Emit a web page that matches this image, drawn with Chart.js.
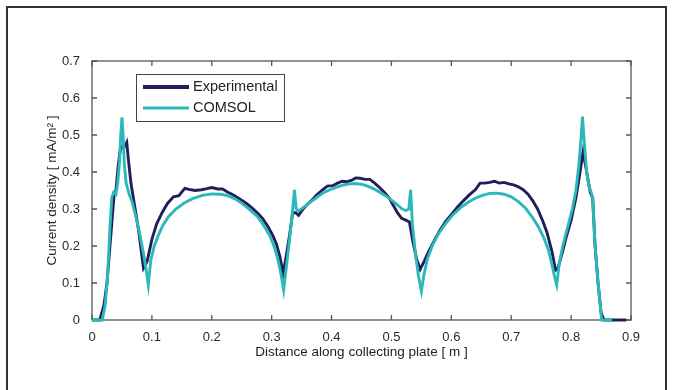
<!DOCTYPE html>
<html lang="en">
<head>
    <meta charset="UTF-8">
    <title>Current density along collecting plate</title>
    <script src="https://cdn.jsdelivr.net/npm/chart.js"></script>
    <style>
        body {
            margin: 0;
            background: #fff;
            font-family: Arial, "Liberation Sans", sans-serif;
        }
        .wrap {
            position: relative;
            width: 673px;
            height: 390px;
            overflow: hidden;
        }
        .frame {
            position: absolute;
            left: 6px;
            top: 6px;
            width: 657px;
            height: 420px;
            border: 2px solid #333;
        }
        #chart {
            position: absolute;
            left: 0;
            top: 0;
        }
    </style>
</head>
<body>
<div class="wrap">
    <div class="frame"></div>
    <canvas id="chart" width="673" height="390"></canvas>
</div>

<script>
    // values
    const seriesNames = ['Experimental', 'COMSOL'];

    const expX = [0, 0.013, 0.02, 0.025, 0.03, 0.035, 0.037, 0.04, 0.044, 0.048, 0.052, 0.055, 0.058, 0.061, 0.065, 0.07, 0.078, 0.086, 0.092,
        0.1, 0.108, 0.117, 0.126, 0.136, 0.145, 0.155, 0.162, 0.172, 0.183, 0.192, 0.2, 0.21, 0.218, 0.226, 0.236, 0.246, 0.258, 0.267, 0.276,
        0.285, 0.294, 0.302, 0.308, 0.314, 0.319, 0.324, 0.33, 0.335, 0.34, 0.345, 0.35, 0.358, 0.366, 0.375, 0.385, 0.393, 0.402, 0.41, 0.418,
        0.426, 0.434, 0.44, 0.448, 0.456, 0.464, 0.472, 0.48, 0.488, 0.496, 0.503, 0.51, 0.517, 0.524, 0.53, 0.536, 0.542, 0.548, 0.555, 0.562,
        0.57, 0.58, 0.59, 0.6, 0.61, 0.62, 0.63, 0.64, 0.648, 0.656, 0.664, 0.672, 0.68, 0.688, 0.696, 0.704, 0.712, 0.72, 0.728, 0.736, 0.744,
        0.752, 0.76, 0.768, 0.774, 0.778, 0.785, 0.792, 0.8, 0.808, 0.814, 0.82, 0.826, 0.832, 0.836, 0.84, 0.845, 0.85, 0.855, 0.892];
    const expY = [0, 0, 0.04, 0.1, 0.2, 0.3, 0.34, 0.35, 0.42, 0.47, 0.465, 0.47, 0.48, 0.43, 0.37, 0.32, 0.24, 0.14, 0.158,
        0.218, 0.26, 0.29, 0.315, 0.333, 0.336, 0.356, 0.353, 0.35, 0.352, 0.355, 0.358, 0.354, 0.354, 0.346, 0.338, 0.328, 0.315, 0.303, 0.29,
        0.274, 0.252, 0.228, 0.205, 0.17, 0.125, 0.17, 0.23, 0.29, 0.29, 0.283, 0.295, 0.31, 0.322, 0.338, 0.352, 0.362, 0.363, 0.37, 0.375,
        0.374, 0.378, 0.384, 0.383, 0.38, 0.38, 0.37, 0.358, 0.345, 0.33, 0.31, 0.29, 0.275, 0.27, 0.265, 0.21, 0.165, 0.137, 0.16, 0.185,
        0.21, 0.24, 0.265, 0.285, 0.305, 0.322, 0.338, 0.352, 0.37, 0.37, 0.372, 0.375, 0.37, 0.372, 0.368, 0.365, 0.36, 0.352, 0.34, 0.322, 0.3,
        0.27, 0.235, 0.185, 0.135, 0.14, 0.18, 0.225, 0.27, 0.33, 0.39, 0.455, 0.4, 0.345, 0.33, 0.2, 0.1, 0.02, 0, 0];

    const comX = [0, 0.017, 0.022, 0.026, 0.03, 0.033, 0.036, 0.04, 0.043, 0.046, 0.048, 0.05, 0.052, 0.054, 0.057, 0.062, 0.067, 0.073, 0.08,
        0.087, 0.091, 0.094, 0.098, 0.104, 0.111, 0.118, 0.128, 0.14, 0.154, 0.168, 0.184, 0.2, 0.214, 0.226, 0.238, 0.25, 0.262, 0.276, 0.287,
        0.297, 0.305, 0.311, 0.316, 0.32, 0.325, 0.33, 0.334, 0.338, 0.341, 0.345, 0.352, 0.36, 0.37, 0.38, 0.39, 0.4, 0.41, 0.42, 0.43, 0.44,
        0.45, 0.46, 0.47, 0.48, 0.49, 0.5, 0.51, 0.518, 0.524, 0.529, 0.532, 0.535, 0.54, 0.545, 0.55, 0.554, 0.56, 0.568, 0.578, 0.59, 0.602,
        0.615, 0.628, 0.64, 0.652, 0.664, 0.676, 0.688, 0.7, 0.712, 0.724, 0.736, 0.746, 0.755, 0.762, 0.768, 0.772, 0.776, 0.78, 0.786, 0.794,
        0.802, 0.808, 0.813, 0.817, 0.819, 0.822, 0.826, 0.83, 0.834, 0.836, 0.84, 0.845, 0.851, 0.868];
    const comY = [0, 0, 0.04, 0.12, 0.25, 0.33, 0.345, 0.34, 0.37, 0.43, 0.5, 0.548, 0.5, 0.42, 0.37, 0.34, 0.32, 0.28, 0.23,
        0.17, 0.13, 0.095, 0.16, 0.2, 0.23, 0.255, 0.28, 0.3, 0.316, 0.328, 0.337, 0.341, 0.34, 0.336, 0.328, 0.316, 0.3, 0.28, 0.255,
        0.228, 0.195, 0.16, 0.12, 0.081, 0.15, 0.22, 0.28, 0.352, 0.3, 0.295, 0.303, 0.313, 0.325, 0.337, 0.347, 0.354, 0.36, 0.365, 0.368, 0.369,
        0.367, 0.362, 0.355, 0.346, 0.336, 0.324, 0.311, 0.3, 0.296, 0.3, 0.352, 0.26, 0.18, 0.12, 0.078, 0.12, 0.165, 0.2, 0.232, 0.26, 0.283,
        0.303, 0.318, 0.329, 0.337, 0.342, 0.343, 0.34, 0.333, 0.32, 0.302, 0.276, 0.25, 0.22, 0.19, 0.15, 0.12, 0.095, 0.15, 0.2, 0.25,
        0.3, 0.35, 0.42, 0.5, 0.55, 0.48, 0.4, 0.36, 0.343, 0.33, 0.2, 0.1, 0, 0];

    const xTickStep = 0.1;
    const yTickStep = 0.1;

    const colors = { Experimental: '#1f1f5e', COMSOL: '#2bb8b8' };

    function toPoints(xs, ys) {
        return xs.map((x, i) => ({ x: x, y: ys[i] }));
    }

    // box + inward ticks on all four sides, matlab style
    const frameTicks = {
        id: 'frameTicks',
        beforeDatasetsDraw(chart) {
            const { ctx, chartArea: a, scales: { x, y } } = chart;
            ctx.save();
            ctx.strokeStyle = '#555';
            ctx.lineWidth = 1.3;
            ctx.strokeRect(a.left, a.top, a.right - a.left, a.bottom - a.top);
            const len = 5;
            ctx.beginPath();
            x.ticks.forEach(t => {
                const px = x.getPixelForValue(t.value);
                ctx.moveTo(px, a.bottom); ctx.lineTo(px, a.bottom - len);
                ctx.moveTo(px, a.top); ctx.lineTo(px, a.top + len);
            });
            y.ticks.forEach(t => {
                const py = y.getPixelForValue(t.value);
                ctx.moveTo(a.left, py); ctx.lineTo(a.left + len, py);
                ctx.moveTo(a.right, py); ctx.lineTo(a.right - len, py);
            });
            ctx.stroke();
            ctx.restore();
        }
    };

    // legend box inside the plot, upper left
    const boxLegend = {
        id: 'boxLegend',
        afterDatasetsDraw(chart) {
            const ctx = chart.ctx;
            const bx = 136, by = 74, bw = 148, bh = 47;
            ctx.save();
            ctx.fillStyle = '#fff';
            ctx.fillRect(bx, by, bw, bh);
            ctx.strokeStyle = '#444';
            ctx.lineWidth = 1;
            ctx.strokeRect(bx + 0.5, by + 0.5, bw, bh);
            ctx.font = '14.5px Arial, "Liberation Sans", sans-serif';
            ctx.textBaseline = 'middle';
            seriesNames.forEach((name, i) => {
                const ry = by + 13 + i * 21;
                ctx.strokeStyle = colors[name];
                ctx.lineWidth = i === 0 ? 4 : 3.2;
                ctx.beginPath();
                ctx.moveTo(bx + 7, ry);
                ctx.lineTo(bx + 53, ry);
                ctx.stroke();
                ctx.fillStyle = '#222';
                ctx.fillText(name, bx + 57, ry);
            });
            ctx.restore();
        }
    };

    const tickFont = { family: 'Arial, "Liberation Sans", sans-serif', size: 13 };
    const titleFont = { family: 'Arial, "Liberation Sans", sans-serif', size: 13.5 };

    new Chart(document.getElementById('chart').getContext('2d'), {
        type: 'line',
        data: {
            datasets: [
                {
                    label: 'COMSOL',
                    data: toPoints(comX, comY),
                    borderColor: colors.COMSOL,
                    borderWidth: 2.9,
                    pointRadius: 0,
                    tension: 0,
                    fill: false,
                    clip: 6
                },
                {
                    label: 'Experimental',
                    data: toPoints(expX, expY),
                    borderColor: colors.Experimental,
                    borderWidth: 2.9,
                    pointRadius: 0,
                    tension: 0,
                    fill: false,
                    clip: 6
                }
            ]
        },
        options: {
            responsive: false,
            animation: false,
            events: [],
            layout: { padding: { left: 0, top: 61, right: 42, bottom: 0 } },
            plugins: {
                legend: { display: false },
                tooltip: { enabled: false }
            },
            scales: {
                x: {
                    type: 'linear',
                    min: 0,
                    max: 0.9,
                    grid: { display: false },
                    border: { display: false },
                    ticks: {
                        stepSize: xTickStep,
                        padding: 2,
                        color: '#2a2a2a',
                        font: tickFont,
                        maxRotation: 0,
                        callback: v => String(+v.toFixed(1))
                    },
                    title: {
                        display: true,
                        text: 'Distance along collecting plate [ m ]',
                        color: '#222',
                        font: titleFont,
                        padding: { top: 0, bottom: 30 }
                    },
                    afterFit: s => { s.height = 70; }
                },
                y: {
                    type: 'linear',
                    min: 0,
                    max: 0.7,
                    grid: { display: false },
                    border: { display: false },
                    ticks: {
                        stepSize: yTickStep,
                        padding: 4,
                        color: '#2a2a2a',
                        font: tickFont,
                        callback: v => String(+v.toFixed(1))
                    },
                    title: {
                        display: true,
                        text: 'Current density [ mA/m² ]',
                        color: '#222',
                        font: titleFont,
                        padding: { top: 44, bottom: 0 }
                    },
                    afterFit: s => { s.width = 92; }
                }
            }
        },
        plugins: [frameTicks, boxLegend]
    });
</script>
</body>
</html>
